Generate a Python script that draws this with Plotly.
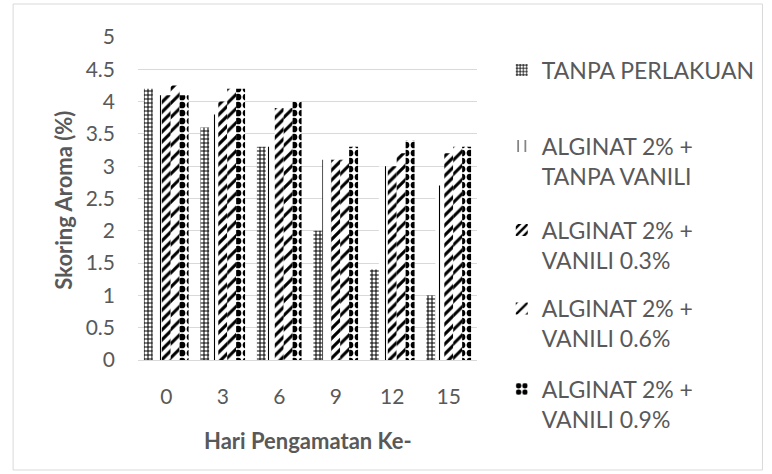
import plotly.graph_objects as go

# Observation days (x categories)
days = ["0", "3", "6", "9", "12", "15"]

# Aroma scores per treatment
tanpa_perlakuan = [4.2, 3.6, 3.3, 2.0, 1.4, 1.0]
alginat_tanpa_vanili = [4.1, 3.8, 3.3, 3.1, 3.0, 2.7]
alginat_vanili_03 = [4.1, 4.0, 3.9, 3.1, 3.0, 3.2]
alginat_vanili_06 = [4.25, 4.2, 3.9, 3.1, 3.2, 3.3]
alginat_vanili_09 = [4.1, 4.2, 4.0, 3.3, 3.4, 3.3]

series_names = [
    "TANPA PERLAKUAN",
    "ALGINAT 2% +<br>TANPA VANILI",
    "ALGINAT 2% +<br>VANILI 0.3%",
    "ALGINAT 2% +<br>VANILI 0.6%",
    "ALGINAT 2% +<br>VANILI 0.9%",
]
series_values = [
    tanpa_perlakuan,
    alginat_tanpa_vanili,
    alginat_vanili_03,
    alginat_vanili_06,
    alginat_vanili_09,
]
# Black-and-white hatch fills, one per treatment
patterns = [
    dict(shape="+", size=4, solidity=0.45),
    dict(shape="|", size=9, solidity=0.12),
    dict(shape="/", size=7, solidity=0.45),
    dict(shape="/", size=10, solidity=0.3),
    dict(shape=".", size=8, solidity=0.55),
]

TEXT = "#595959"
FONT = "Lato, 'Open Sans', sans-serif"

# plot-area pixel geometry
L, R, T, B = 138, 480, 37, 360
W, H = 772, 474
PW, PH = R - L, B - T


def px_x(x):
    return (x - L) / PW


def px_y(y):
    return (B - y) / PH


# one legend box per treatment, stacked down the right side
legend_centres = [70, 161, 245, 323.5, 404]
legend_ids = ["legend", "legend2", "legend3", "legend4", "legend5"]

fig = go.Figure()
for name, vals, pat, lid in zip(series_names, series_values, patterns, legend_ids):
    fig.add_trace(go.Bar(
        x=days, y=vals, name=name, legend=lid,
        marker=dict(color="white", line=dict(width=0),
                    pattern=dict(fgcolor="black", bgcolor="white", fillmode="replace", **pat)),
    ))

legend_style = dict(
    xanchor="left", yanchor="middle", valign="top",
    font=dict(size=23, color=TEXT, family=FONT),
    itemwidth=30, bgcolor="rgba(0,0,0,0)",
)
layout_legends = {}
for lid, cy in zip(legend_ids, legend_centres):
    layout_legends[lid] = dict(x=px_x(505), y=px_y(cy), **legend_style)

fig.update_layout(
    width=W, height=H,
    margin=dict(l=L, r=W - R, t=T, b=H - B),
    paper_bgcolor="white", plot_bgcolor="white",
    barmode="group", bargap=0.21, bargroupgap=0,
    font=dict(family=FONT, color=TEXT, size=21),
    showlegend=True,
    xaxis=dict(
        type="category", showgrid=False, showline=True,
        linecolor="#d9d9d9", linewidth=1, ticks="",
        tickfont=dict(size=21, color=TEXT), ticklabelstandoff=18,
    ),
    yaxis=dict(
        range=[0, 5], dtick=0.5, showgrid=True, gridcolor="#d9d9d9",
        zeroline=False, showline=False, ticks="",
        tickfont=dict(size=21, color=TEXT), ticklabelstandoff=22,
    ),
    annotations=[
        dict(text="<b>Hari Pengamatan Ke-</b>", xref="paper", yref="paper",
             x=px_x(309), y=px_y(440), xanchor="center", yanchor="middle",
             showarrow=False, font=dict(size=22, color=TEXT, family=FONT)),
        dict(text="<b>Skoring Aroma (%)</b>", xref="paper", yref="paper",
             x=px_x(62), y=px_y(200), xanchor="center", yanchor="middle",
             showarrow=False, textangle=-90,
             font=dict(size=22, color=TEXT, family=FONT)),
    ],
    shapes=[dict(type="rect", xref="paper", yref="paper",
                 x0=px_x(12), x1=px_x(768), y0=px_y(470), y1=px_y(4),
                 line=dict(color="#d9d9d9", width=1))],
    **layout_legends,
)

fig.write_html("out.html")
